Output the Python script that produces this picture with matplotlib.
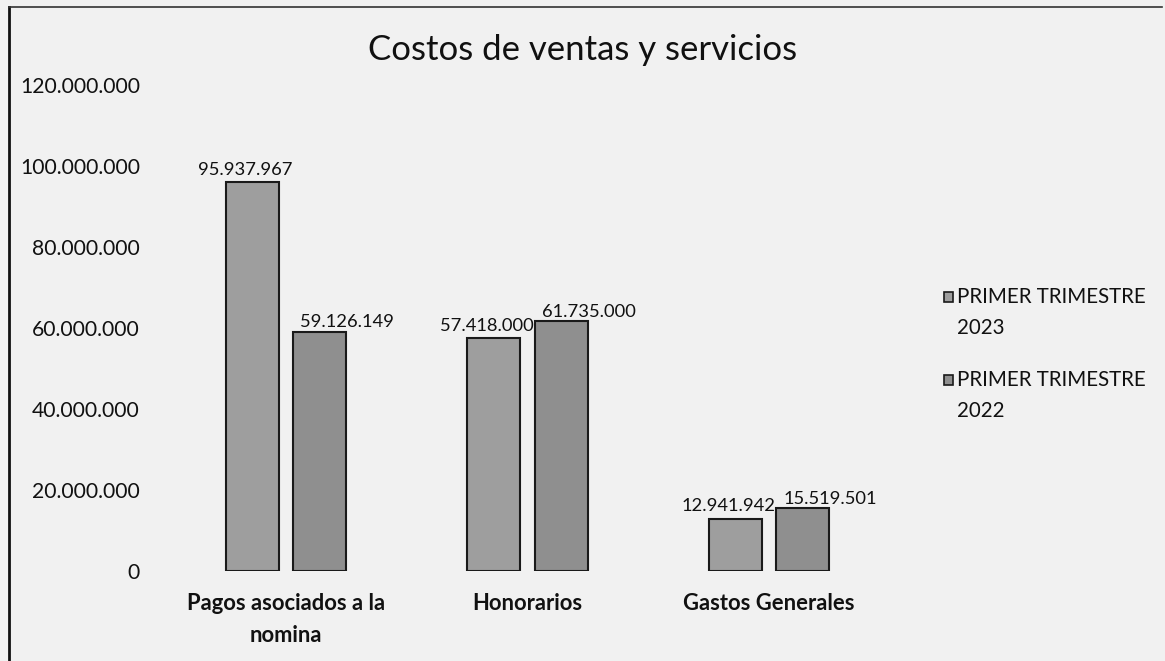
import matplotlib
matplotlib.use("Agg")
import matplotlib.pyplot as plt
import numpy as np
from matplotlib.patches import Rectangle
from matplotlib.lines import Line2D

categories = ["Pagos asociados a la\nnomina", "Honorarios", "Gastos Generales"]
series_names = ["PRIMER TRIMESTRE\n2023", "PRIMER TRIMESTRE\n2022"]
values_2023 = [95937967, 57418000, 12941942]
values_2022 = [59126149, 61735000, 15519501]
yticks = [0, 20000000, 40000000, 60000000, 80000000, 100000000, 120000000]

def fmt(v):
    return f"{v:,}".replace(",", ".")

plt.rcParams['font.family'] = ['Lato', 'DejaVu Sans']

bg = "#f1f1f1"
fig = plt.figure(figsize=(11.65, 6.61), dpi=100, facecolor=bg)
ax = fig.add_axes([0.1416, 0.1362, 0.6223, 0.7352])
ax.set_facecolor(bg)

x = np.arange(len(categories))
w = 0.219
off = 0.139
colors = ["#9e9e9e", "#8f8f8f"]
ax.bar(x - off, values_2023, w, color=colors[0], edgecolor="#1a1a1a", linewidth=1.5)
ax.bar(x + off, values_2022, w, color=colors[1], edgecolor="#1a1a1a", linewidth=1.5)

for xi, v in zip(x, values_2023):
    ax.annotate(fmt(v), (xi - off, v), xytext=(-5, 3), textcoords="offset points",
                ha="center", va="bottom", fontsize=13.2, color="#111111")
for xi, v in zip(x, values_2022):
    ax.annotate(fmt(v), (xi + off, v), xytext=(20, 1), textcoords="offset points",
                ha="center", va="bottom", fontsize=13.2, color="#111111")

ax.set_xlim(-0.5, 2.5)
ax.set_ylim(0, 120000000)
ax.set_yticks(yticks)
ax.set_yticklabels([fmt(t) for t in yticks], fontsize=15.2, color="#111111")
ax.set_xticks(x)
ax.set_xticklabels(categories, fontsize=15.8, fontweight="bold", color="#111111", linespacing=1.65)
ax.tick_params(axis="both", length=0)
ax.tick_params(axis="y", pad=18)
ax.tick_params(axis="x", pad=16)
for s in ax.spines.values():
    s.set_visible(False)

fig.text(0.5, 0.925, "Costos de ventas y servicios", ha="center", va="center",
         fontsize=25, color="#111111")

# legend: marker aligned with first line of each label
for i, (name, col) in enumerate(zip(series_names, colors)):
    y_first = 0.5507 - i * 0.1256
    fig.add_artist(Rectangle((0.8103, y_first - 0.0076), 0.0077, 0.0151,
                             transform=fig.transFigure, facecolor=col,
                             edgecolor="#1a1a1a", linewidth=1.2))
    line1, line2 = name.split("\n")
    fig.text(0.8215, y_first, line1, ha="left", va="center", fontsize=14.8, color="#111111")
    fig.text(0.8215, y_first - 0.0469, line2, ha="left", va="center", fontsize=14.8, color="#111111")

# chart border (left and top)
fig.add_artist(Line2D([0.0075, 0.0075], [0.0, 0.99], transform=fig.transFigure, color="#111111", lw=2))
fig.add_artist(Line2D([0.0075, 0.997], [0.99, 0.99], transform=fig.transFigure, color="#333333", lw=1.2))

fig.savefig("out.png", dpi=100, facecolor=bg)
